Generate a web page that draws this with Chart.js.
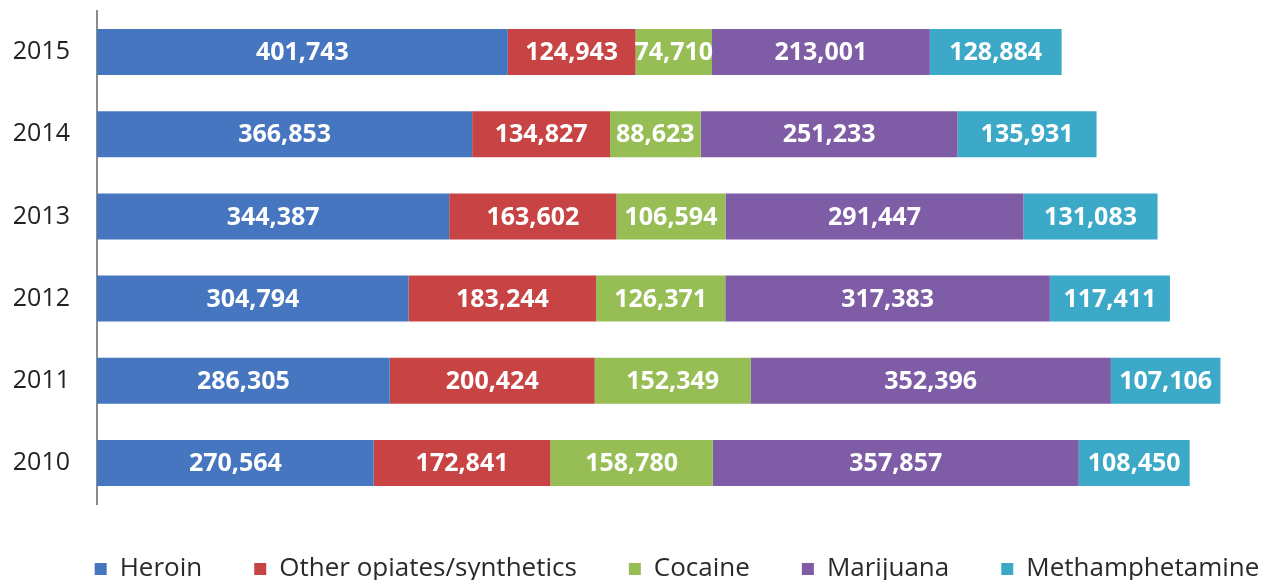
<!DOCTYPE html>
<html lang="en">

<head>
    <meta charset="UTF-8">
    <title>Drug Reports by Year</title>
    <script src="https://cdn.jsdelivr.net/npm/chart.js"></script>
    <style>
        body {
            margin: 0;
            background-color: #ffffff;
        }

        .chart-container {
            width: 1273px;
            height: 580px;
        }
    </style>
</head>

<body>

    <div class="chart-container">
        <canvas id="drugChart"></canvas>
    </div>

    <script>
        const years = ['2015', '2014', '2013', '2012', '2011', '2010'];

        const heroin = [401743, 366853, 344387, 304794, 286305, 270564];
        const otherOpiates = [124943, 134827, 163602, 183244, 200424, 172841];
        const cocaine = [74710, 88623, 106594, 126371, 152349, 158780];
        const marijuana = [213001, 251233, 291447, 317383, 352396, 357857];
        const meth = [128884, 135931, 131083, 117411, 107106, 108450];

        const seriesNames = ['Heroin', 'Other opiates/synthetics', 'Cocaine', 'Marijuana', 'Methamphetamine'];
        const seriesColors = ['#4676c0', '#c84444', '#97bd55', '#7e5ca6', '#3ba9c7'];

        const FONT = "'Open Sans', sans-serif";

        // white value text centred inside each bar segment
        const segmentLabels = {
            id: 'segmentLabels',
            afterDatasetsDraw(chart) {
                const ctx = chart.ctx;
                ctx.save();
                ctx.font = "bold 25px " + FONT;
                ctx.fillStyle = '#ffffff';
                ctx.textAlign = 'center';
                ctx.textBaseline = 'middle';
                chart.data.datasets.forEach((ds, i) => {
                    const meta = chart.getDatasetMeta(i);
                    meta.data.forEach((bar, j) => {
                        const x = (bar.x + bar.base) / 2;
                        ctx.fillText(ds.data[j].toLocaleString('en-US'), x, bar.y + 1);
                    });
                });
                ctx.restore();
            }
        };

        // centre the legend row under the plot area rather than the whole canvas
        const legendUnderPlot = {
            id: 'legendUnderPlot',
            afterLayout(chart) {
                const shift = chart.chartArea.left / 2 - 8;
                chart.legend.left += shift;
                chart.legend.right += shift;
            }
        };

        const datasets = [heroin, otherOpiates, cocaine, marijuana, meth].map((values, i) => ({
            label: seriesNames[i],
            data: values,
            backgroundColor: seriesColors[i],
            barPercentage: 0.56,
            categoryPercentage: 1.0
        }));

        new Chart(document.getElementById('drugChart').getContext('2d'), {
            type: 'bar',
            data: {
                labels: years,
                datasets: datasets
            },
            options: {
                indexAxis: 'y',
                responsive: true,
                maintainAspectRatio: false,
                animation: false,
                layout: {
                    padding: { top: 11, right: 0, bottom: -12, left: 0 }
                },
                scales: {
                    x: {
                        stacked: true,
                        display: false,
                        min: 0,
                        max: 1150000
                    },
                    y: {
                        stacked: true,
                        afterFit(scale) {
                            // fixed gutter for the year labels, no extra room above/below
                            scale.width = 97;
                            scale.paddingTop = 0;
                            scale.paddingBottom = 0;
                        },
                        grid: {
                            display: false,
                            drawTicks: false
                        },
                        border: {
                            display: true,
                            color: '#8c8c8c',
                            width: 2
                        },
                        ticks: {
                            padding: 27,
                            color: '#222222',
                            font: { family: FONT, size: 25 }
                        }
                    }
                },
                plugins: {
                    legend: {
                        position: 'bottom',
                        labels: {
                            boxWidth: 12,
                            boxHeight: 12,
                            padding: 52,
                            color: '#2a2a2a',
                            font: { family: FONT, size: 26 }
                        }
                    },
                    tooltip: { enabled: false }
                }
            },
            plugins: [segmentLabels, legendUnderPlot]
        });
    </script>

</body>

</html>
